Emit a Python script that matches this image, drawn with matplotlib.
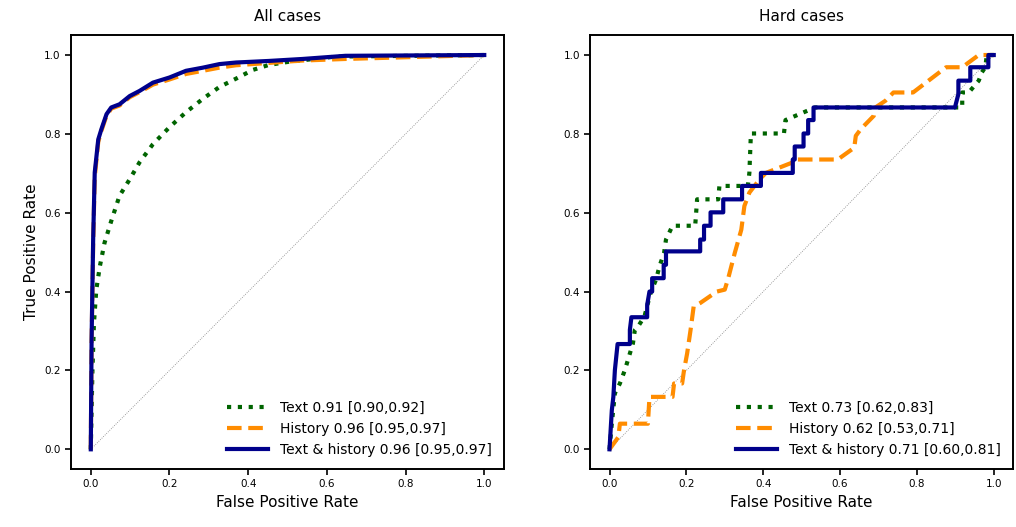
import numpy as np
import matplotlib.pyplot as plt

# All cases
all_text_fpr = [0, 0.004, 0.008, 0.014, 0.023, 0.035, 0.052, 0.073, 0.099, 0.124, 0.158, 0.200, 0.242, 0.285, 0.327, 0.369, 0.411, 0.453, 0.504, 0.622, 1.0]
all_text_tpr = [0, 0.193, 0.320, 0.405, 0.464, 0.524, 0.579, 0.643, 0.685, 0.728, 0.774, 0.817, 0.855, 0.889, 0.919, 0.940, 0.962, 0.975, 0.983, 0.996, 1.0]
all_hist_fpr = [0, 0.002, 0.006, 0.010, 0.019, 0.027, 0.040, 0.052, 0.073, 0.099, 0.124, 0.158, 0.200, 0.242, 0.285, 0.327, 0.369, 0.453, 0.538, 0.647, 1.0]
all_hist_tpr = [0, 0.270, 0.520, 0.690, 0.780, 0.808, 0.846, 0.864, 0.872, 0.893, 0.906, 0.925, 0.938, 0.952, 0.960, 0.968, 0.974, 0.980, 0.986, 0.990, 1.0]
all_both_fpr = all_hist_fpr
all_both_tpr = [0, 0.277, 0.532, 0.702, 0.786, 0.812, 0.850, 0.867, 0.875, 0.896, 0.909, 0.930, 0.943, 0.960, 0.968, 0.977, 0.981, 0.985, 0.990, 0.998, 1.0]

# Hard cases
hard_text_fpr = [0, 0.006, 0.014, 0.027, 0.040, 0.053, 0.061, 0.066, 0.074, 0.091, 0.100, 0.108, 0.121, 0.130, 0.142, 0.147, 0.164, 0.223, 0.228, 0.283, 0.286, 0.360, 0.364, 0.368, 0.454, 0.458, 0.535, 0.899, 0.918, 0.918, 0.935, 0.961, 0.969, 0.978, 0.982, 1.0]
hard_text_tpr = [0, 0.065, 0.142, 0.167, 0.201, 0.243, 0.269, 0.303, 0.311, 0.337, 0.371, 0.400, 0.430, 0.464, 0.498, 0.532, 0.567, 0.567, 0.634, 0.634, 0.668, 0.668, 0.701, 0.801, 0.801, 0.835, 0.867, 0.867, 0.867, 0.905, 0.905, 0.935, 0.956, 0.969, 1.0, 1.0]
hard_hist_fpr = [0, 0.023, 0.027, 0.100, 0.104, 0.164, 0.168, 0.189, 0.194, 0.202, 0.211, 0.219, 0.236, 0.279, 0.300, 0.309, 0.326, 0.343, 0.351, 0.364, 0.390, 0.407, 0.475, 0.479, 0.594, 0.637, 0.641, 0.654, 0.688, 0.692, 0.718, 0.739, 0.790, 0.876, 0.918, 0.961, 1.0]
hard_hist_tpr = [0, 0.031, 0.065, 0.065, 0.133, 0.133, 0.167, 0.167, 0.201, 0.243, 0.303, 0.362, 0.371, 0.400, 0.405, 0.434, 0.498, 0.557, 0.617, 0.651, 0.684, 0.701, 0.727, 0.735, 0.735, 0.765, 0.795, 0.812, 0.846, 0.867, 0.884, 0.905, 0.905, 0.969, 0.969, 1.0, 1.0]
hard_both_fpr = [0, 0.006, 0.010, 0.014, 0.021, 0.053, 0.053, 0.057, 0.098, 0.098, 0.104, 0.111, 0.111, 0.141, 0.141, 0.147, 0.147, 0.236, 0.236, 0.246, 0.246, 0.263, 0.263, 0.296, 0.296, 0.345, 0.345, 0.394, 0.394, 0.477, 0.477, 0.482, 0.482, 0.505, 0.505, 0.517, 0.517, 0.531, 0.531, 0.899, 0.908, 0.908, 0.939, 0.939, 0.986, 0.986, 1.0]
hard_both_tpr = [0, 0.099, 0.133, 0.201, 0.267, 0.267, 0.303, 0.335, 0.335, 0.366, 0.400, 0.400, 0.434, 0.434, 0.468, 0.468, 0.502, 0.502, 0.532, 0.532, 0.567, 0.567, 0.601, 0.601, 0.634, 0.634, 0.668, 0.668, 0.701, 0.701, 0.735, 0.735, 0.768, 0.768, 0.801, 0.801, 0.835, 0.835, 0.867, 0.867, 0.901, 0.935, 0.935, 0.969, 0.969, 1.0, 1.0]

labels_all = ["Text 0.91 [0.90,0.92]", "History 0.96 [0.95,0.97]", "Text & history 0.96 [0.95,0.97]"]
labels_hard = ["Text 0.73 [0.62,0.83]", "History 0.62 [0.53,0.71]", "Text & history 0.71 [0.60,0.81]"]

fig = plt.figure(figsize=(10.16, 5.27), dpi=100)
ax1 = fig.add_axes([0.070, 0.110, 0.426, 0.823])
ax2 = fig.add_axes([0.581, 0.110, 0.416, 0.823])

panels = [
    (ax1, "All cases", labels_all,
     (all_text_fpr, all_text_tpr), (all_hist_fpr, all_hist_tpr), (all_both_fpr, all_both_tpr)),
    (ax2, "Hard cases", labels_hard,
     (hard_text_fpr, hard_text_tpr), (hard_hist_fpr, hard_hist_tpr), (hard_both_fpr, hard_both_tpr)),
]

for ax, title, labels, t, h, b in panels:
    ax.plot([0, 1], [0, 1], color="grey", lw=0.6, ls=":")
    ax.plot(t[0], t[1], color="darkgreen", lw=3, ls=(0, (1, 1.6)), label=labels[0])
    ax.plot(h[0], h[1], color="darkorange", lw=3, ls=(0, (3.5, 1.6)), label=labels[1])
    ax.plot(b[0], b[1], color="darkblue", lw=3, label=labels[2])
    ax.set_xlim(-0.05, 1.05)
    ax.set_ylim(-0.05, 1.05)
    ax.set_xticks(np.arange(0, 1.01, 0.2))
    ax.set_yticks(np.arange(0, 1.01, 0.2))
    ax.tick_params(labelsize=7.5, width=1.2, length=4)
    for s in ax.spines.values():
        s.set_linewidth(1.4)
    ax.set_title(title, fontsize=11, pad=10)
    ax.set_xlabel("False Positive Rate", fontsize=11)
    ax.legend(loc="lower right", frameon=False, fontsize=10, handlelength=3)

ax1.set_ylabel("True Positive Rate", fontsize=11)

fig.savefig("out.png", dpi=100)
